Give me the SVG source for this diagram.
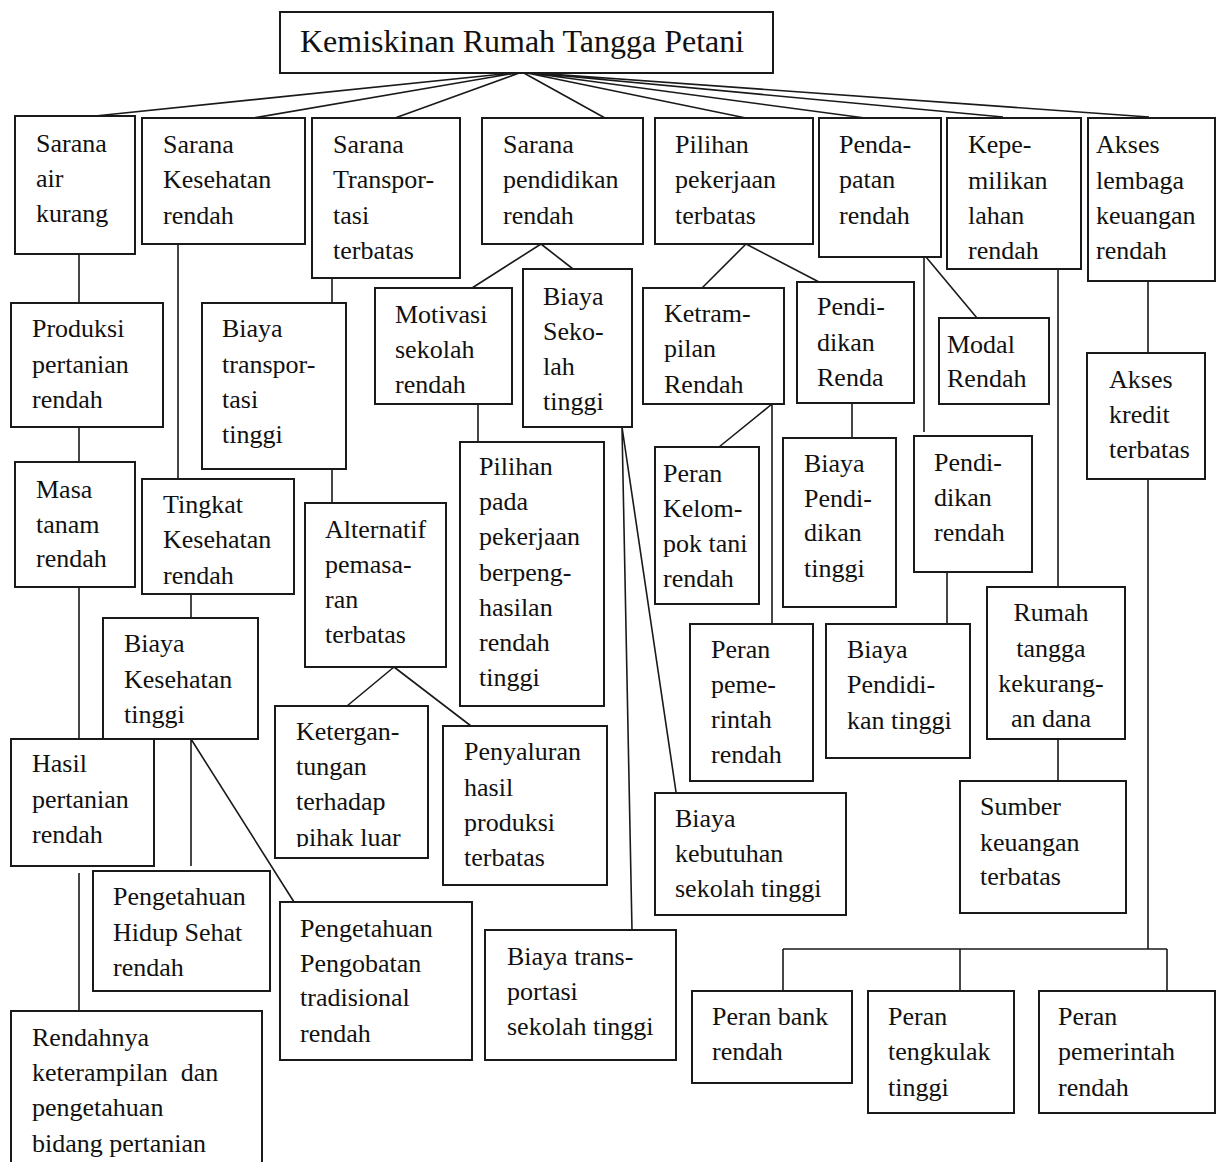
<svg xmlns="http://www.w3.org/2000/svg" width="1224" height="1162" viewBox="0 0 1224 1162">
<style>
.b{fill:#fff;stroke:#1a1a1a;stroke-width:2}
.t{font-family:"Liberation Serif","Times New Roman",serif;font-size:26px;fill:#111}
.c{fill:none;stroke:#1a1a1a;stroke-width:1.6}
</style>
<defs><clipPath id="clipK"><rect x="270" y="700" width="170" height="147"/></clipPath></defs>
<rect width="1224" height="1162" fill="#fff"/>
<g id="connectors" class="c">
<path d="M522 72L95 116M522 72L253 118M522 72L395 118M522 72L605 118M522 72L746 118M522 72L865 118M522 72L1003 117M522 72L1149 117"/>
<path d="M79 254V303M79 427V462M79 587V739M79 873V1011"/>
<path d="M178 244V479M191 594V618M191 739V866M191 739L294 902"/>
<path d="M332 278V303M332 469V503M394 667L347 706M394 667L471 726"/>
<path d="M541 244L472 288M541 244L573 269M478 404V442M622 427L632 930M622 427L676 792"/>
<path d="M746 244L702 288M746 244L819 282M772 404L719 447M772 404V624M852 403V438"/>
<path d="M926 257L977 318M924 257V432M947 572V624"/>
<path d="M1058 269V587M1058 739V781M1148 281V353M1148 479V949M783 949H1167M783 949V991M960 949V991M1167 949V991"/>
</g>
<g id="n0"><rect class="b" x="280" y="12" width="493" height="61"/><text x="300" y="52" font-family="Liberation Serif,serif" font-size="32" fill="#111">Kemiskinan Rumah Tangga Petani</text></g>
<g id="n1"><rect class="b" x="15" y="116" width="120" height="138"/><text class="t" x="36" y="152">Sarana</text><text class="t" x="36" y="187">air</text><text class="t" x="36" y="222">kurang</text></g>
<g id="n2"><rect class="b" x="142" y="118" width="163" height="126"/><text class="t" x="163" y="153">Sarana</text><text class="t" x="163" y="188">Kesehatan</text><text class="t" x="163" y="224">rendah</text></g>
<g id="n3"><rect class="b" x="312" y="118" width="148" height="160"/><text class="t" x="333" y="153">Sarana</text><text class="t" x="333" y="188">Transpor-</text><text class="t" x="333" y="224">tasi</text><text class="t" x="333" y="259">terbatas</text></g>
<g id="n4"><rect class="b" x="482" y="118" width="161" height="126"/><text class="t" x="503" y="153">Sarana</text><text class="t" x="503" y="188">pendidikan</text><text class="t" x="503" y="224">rendah</text></g>
<g id="n5"><rect class="b" x="655" y="118" width="158" height="126"/><text class="t" x="675" y="153">Pilihan</text><text class="t" x="675" y="188">pekerjaan</text><text class="t" x="675" y="224">terbatas</text></g>
<g id="n6"><rect class="b" x="819" y="118" width="122" height="139"/><text class="t" x="839" y="153">Penda-</text><text class="t" x="839" y="188">patan</text><text class="t" x="839" y="224">rendah</text></g>
<g id="n7"><rect class="b" x="947" y="118" width="134" height="151"/><text class="t" x="968" y="153">Kepe-</text><text class="t" x="968" y="189">milikan</text><text class="t" x="968" y="224">lahan</text><text class="t" x="968" y="259">rendah</text></g>
<g id="n8"><rect class="b" x="1088" y="118" width="127" height="163"/><text class="t" x="1096" y="153">Akses</text><text class="t" x="1096" y="189">lembaga</text><text class="t" x="1096" y="224">keuangan</text><text class="t" x="1096" y="259">rendah</text></g>
<g id="n9"><rect class="b" x="11" y="303" width="152" height="124"/><text class="t" x="32" y="337">Produksi</text><text class="t" x="32" y="373">pertanian</text><text class="t" x="32" y="408">rendah</text></g>
<g id="n10"><rect class="b" x="15" y="462" width="120" height="125"/><text class="t" x="36" y="498">Masa</text><text class="t" x="36" y="533">tanam</text><text class="t" x="36" y="567">rendah</text></g>
<g id="n11"><rect class="b" x="202" y="303" width="144" height="166"/><text class="t" x="222" y="337">Biaya</text><text class="t" x="222" y="373">transpor-</text><text class="t" x="222" y="408">tasi</text><text class="t" x="222" y="443">tinggi</text></g>
<g id="n12"><rect class="b" x="142" y="479" width="152" height="115"/><text class="t" x="163" y="513">Tingkat</text><text class="t" x="163" y="548">Kesehatan</text><text class="t" x="163" y="584">rendah</text></g>
<g id="n13"><rect class="b" x="305" y="503" width="141" height="164"/><text class="t" x="325" y="538">Alternatif</text><text class="t" x="325" y="573">pemasa-</text><text class="t" x="325" y="608">ran</text><text class="t" x="325" y="643">terbatas</text></g>
<g id="n14"><rect class="b" x="375" y="288" width="137" height="116"/><text class="t" x="395" y="323">Motivasi</text><text class="t" x="395" y="358">sekolah</text><text class="t" x="395" y="393">rendah</text></g>
<g id="n15"><rect class="b" x="523" y="269" width="109" height="158"/><text class="t" x="543" y="305">Biaya</text><text class="t" x="543" y="340">Seko-</text><text class="t" x="543" y="375">lah</text><text class="t" x="543" y="410">tinggi</text></g>
<g id="n16"><rect class="b" x="460" y="442" width="144" height="264"/><text class="t" x="479" y="475">Pilihan</text><text class="t" x="479" y="510">pada</text><text class="t" x="479" y="545">pekerjaan</text><text class="t" x="479" y="581">berpeng-</text><text class="t" x="479" y="616">hasilan</text><text class="t" x="479" y="651">rendah</text><text class="t" x="479" y="686">tinggi</text></g>
<g id="n17"><rect class="b" x="643" y="288" width="141" height="116"/><text class="t" x="664" y="322">Ketram-</text><text class="t" x="664" y="357">pilan</text><text class="t" x="664" y="393">Rendah</text></g>
<g id="n18"><rect class="b" x="797" y="282" width="117" height="121"/><text class="t" x="817" y="315">Pendi-</text><text class="t" x="817" y="351">dikan</text><text class="t" x="817" y="386">Renda</text></g>
<g id="n19"><rect class="b" x="939" y="318" width="110" height="86"/><text class="t" x="947" y="353">Modal</text><text class="t" x="947" y="387">Rendah</text></g>
<g id="n20"><rect class="b" x="914" y="436" width="118" height="136"/><text class="t" x="934" y="471">Pendi-</text><text class="t" x="934" y="506">dikan</text><text class="t" x="934" y="541">rendah</text></g>
<g id="n21"><rect class="b" x="1087" y="353" width="118" height="126"/><text class="t" x="1109" y="388">Akses</text><text class="t" x="1109" y="423">kredit</text><text class="t" x="1109" y="458">terbatas</text></g>
<g id="n22"><rect class="b" x="655" y="447" width="104" height="157"/><text class="t" x="663" y="482">Peran</text><text class="t" x="663" y="517">Kelom-</text><text class="t" x="663" y="552">pok tani</text><text class="t" x="663" y="587">rendah</text></g>
<g id="n23"><rect class="b" x="783" y="438" width="113" height="169"/><text class="t" x="804" y="472">Biaya</text><text class="t" x="804" y="507">Pendi-</text><text class="t" x="804" y="541">dikan</text><text class="t" x="804" y="577">tinggi</text></g>
<g id="n24"><rect class="b" x="103" y="618" width="155" height="121"/><text class="t" x="124" y="652">Biaya</text><text class="t" x="124" y="688">Kesehatan</text><text class="t" x="124" y="723">tinggi</text></g>
<g id="n25"><rect class="b" x="11" y="739" width="143" height="127"/><text class="t" x="32" y="772">Hasil</text><text class="t" x="32" y="808">pertanian</text><text class="t" x="32" y="843">rendah</text></g>
<g id="n26"><rect class="b" x="275" y="706" width="153" height="152"/><g clip-path="url(#clipK)"><text class="t" x="296" y="740">Ketergan-</text><text class="t" x="296" y="775">tungan</text><text class="t" x="296" y="810">terhadap</text><text class="t" x="296" y="846">pihak luar</text></g></g>
<g id="n27"><rect class="b" x="443" y="726" width="164" height="159"/><text class="t" x="464" y="760">Penyaluran</text><text class="t" x="464" y="796">hasil</text><text class="t" x="464" y="831">produksi</text><text class="t" x="464" y="866">terbatas</text></g>
<g id="n28"><rect class="b" x="690" y="624" width="123" height="157"/><text class="t" x="711" y="658">Peran</text><text class="t" x="711" y="693">peme-</text><text class="t" x="711" y="728">rintah</text><text class="t" x="711" y="763">rendah</text></g>
<g id="n29"><rect class="b" x="826" y="624" width="144" height="134"/><text class="t" x="847" y="658">Biaya</text><text class="t" x="847" y="693">Pendidi-</text><text class="t" x="847" y="729">kan tinggi</text></g>
<g id="n30"><rect class="b" x="987" y="587" width="138" height="152"/><text class="t" x="1051" y="621" text-anchor="middle">Rumah</text><text class="t" x="1051" y="657" text-anchor="middle">tangga</text><text class="t" x="1051" y="692" text-anchor="middle">kekurang-</text><text class="t" x="1051" y="727" text-anchor="middle">an dana</text></g>
<g id="n31"><rect class="b" x="960" y="781" width="166" height="132"/><text class="t" x="980" y="815">Sumber</text><text class="t" x="980" y="851">keuangan</text><text class="t" x="980" y="885">terbatas</text></g>
<g id="n32"><rect class="b" x="655" y="793" width="191" height="122"/><text class="t" x="675" y="827">Biaya</text><text class="t" x="675" y="862">kebutuhan</text><text class="t" x="675" y="897">sekolah tinggi</text></g>
<g id="n33"><rect class="b" x="93" y="871" width="177" height="120"/><text class="t" x="113" y="905">Pengetahuan</text><text class="t" x="113" y="941">Hidup Sehat</text><text class="t" x="113" y="976">rendah</text></g>
<g id="n34"><rect class="b" x="280" y="902" width="192" height="158"/><text class="t" x="300" y="937">Pengetahuan</text><text class="t" x="300" y="972">Pengobatan</text><text class="t" x="300" y="1006">tradisional</text><text class="t" x="300" y="1042">rendah</text></g>
<g id="n35"><rect class="b" x="485" y="930" width="191" height="130"/><text class="t" x="507" y="965">Biaya trans-</text><text class="t" x="507" y="1000">portasi</text><text class="t" x="507" y="1035">sekolah tinggi</text></g>
<g id="n36"><path class="b" d="M11 1170V1011H262V1170"/><text class="t" x="32" y="1046">Rendahnya</text><text class="t" x="32" y="1081" xml:space="preserve">keterampilan  dan</text><text class="t" x="32" y="1116">pengetahuan</text><text class="t" x="32" y="1152">bidang pertanian</text></g>
<g id="n37"><rect class="b" x="692" y="991" width="160" height="92"/><text class="t" x="712" y="1025">Peran bank</text><text class="t" x="712" y="1060">rendah</text></g>
<g id="n38"><rect class="b" x="868" y="991" width="146" height="122"/><text class="t" x="888" y="1025">Peran</text><text class="t" x="888" y="1060">tengkulak</text><text class="t" x="888" y="1096">tinggi</text></g>
<g id="n39"><rect class="b" x="1039" y="991" width="176" height="122"/><text class="t" x="1058" y="1025">Peran</text><text class="t" x="1058" y="1060">pemerintah</text><text class="t" x="1058" y="1096">rendah</text></g>
</svg>
